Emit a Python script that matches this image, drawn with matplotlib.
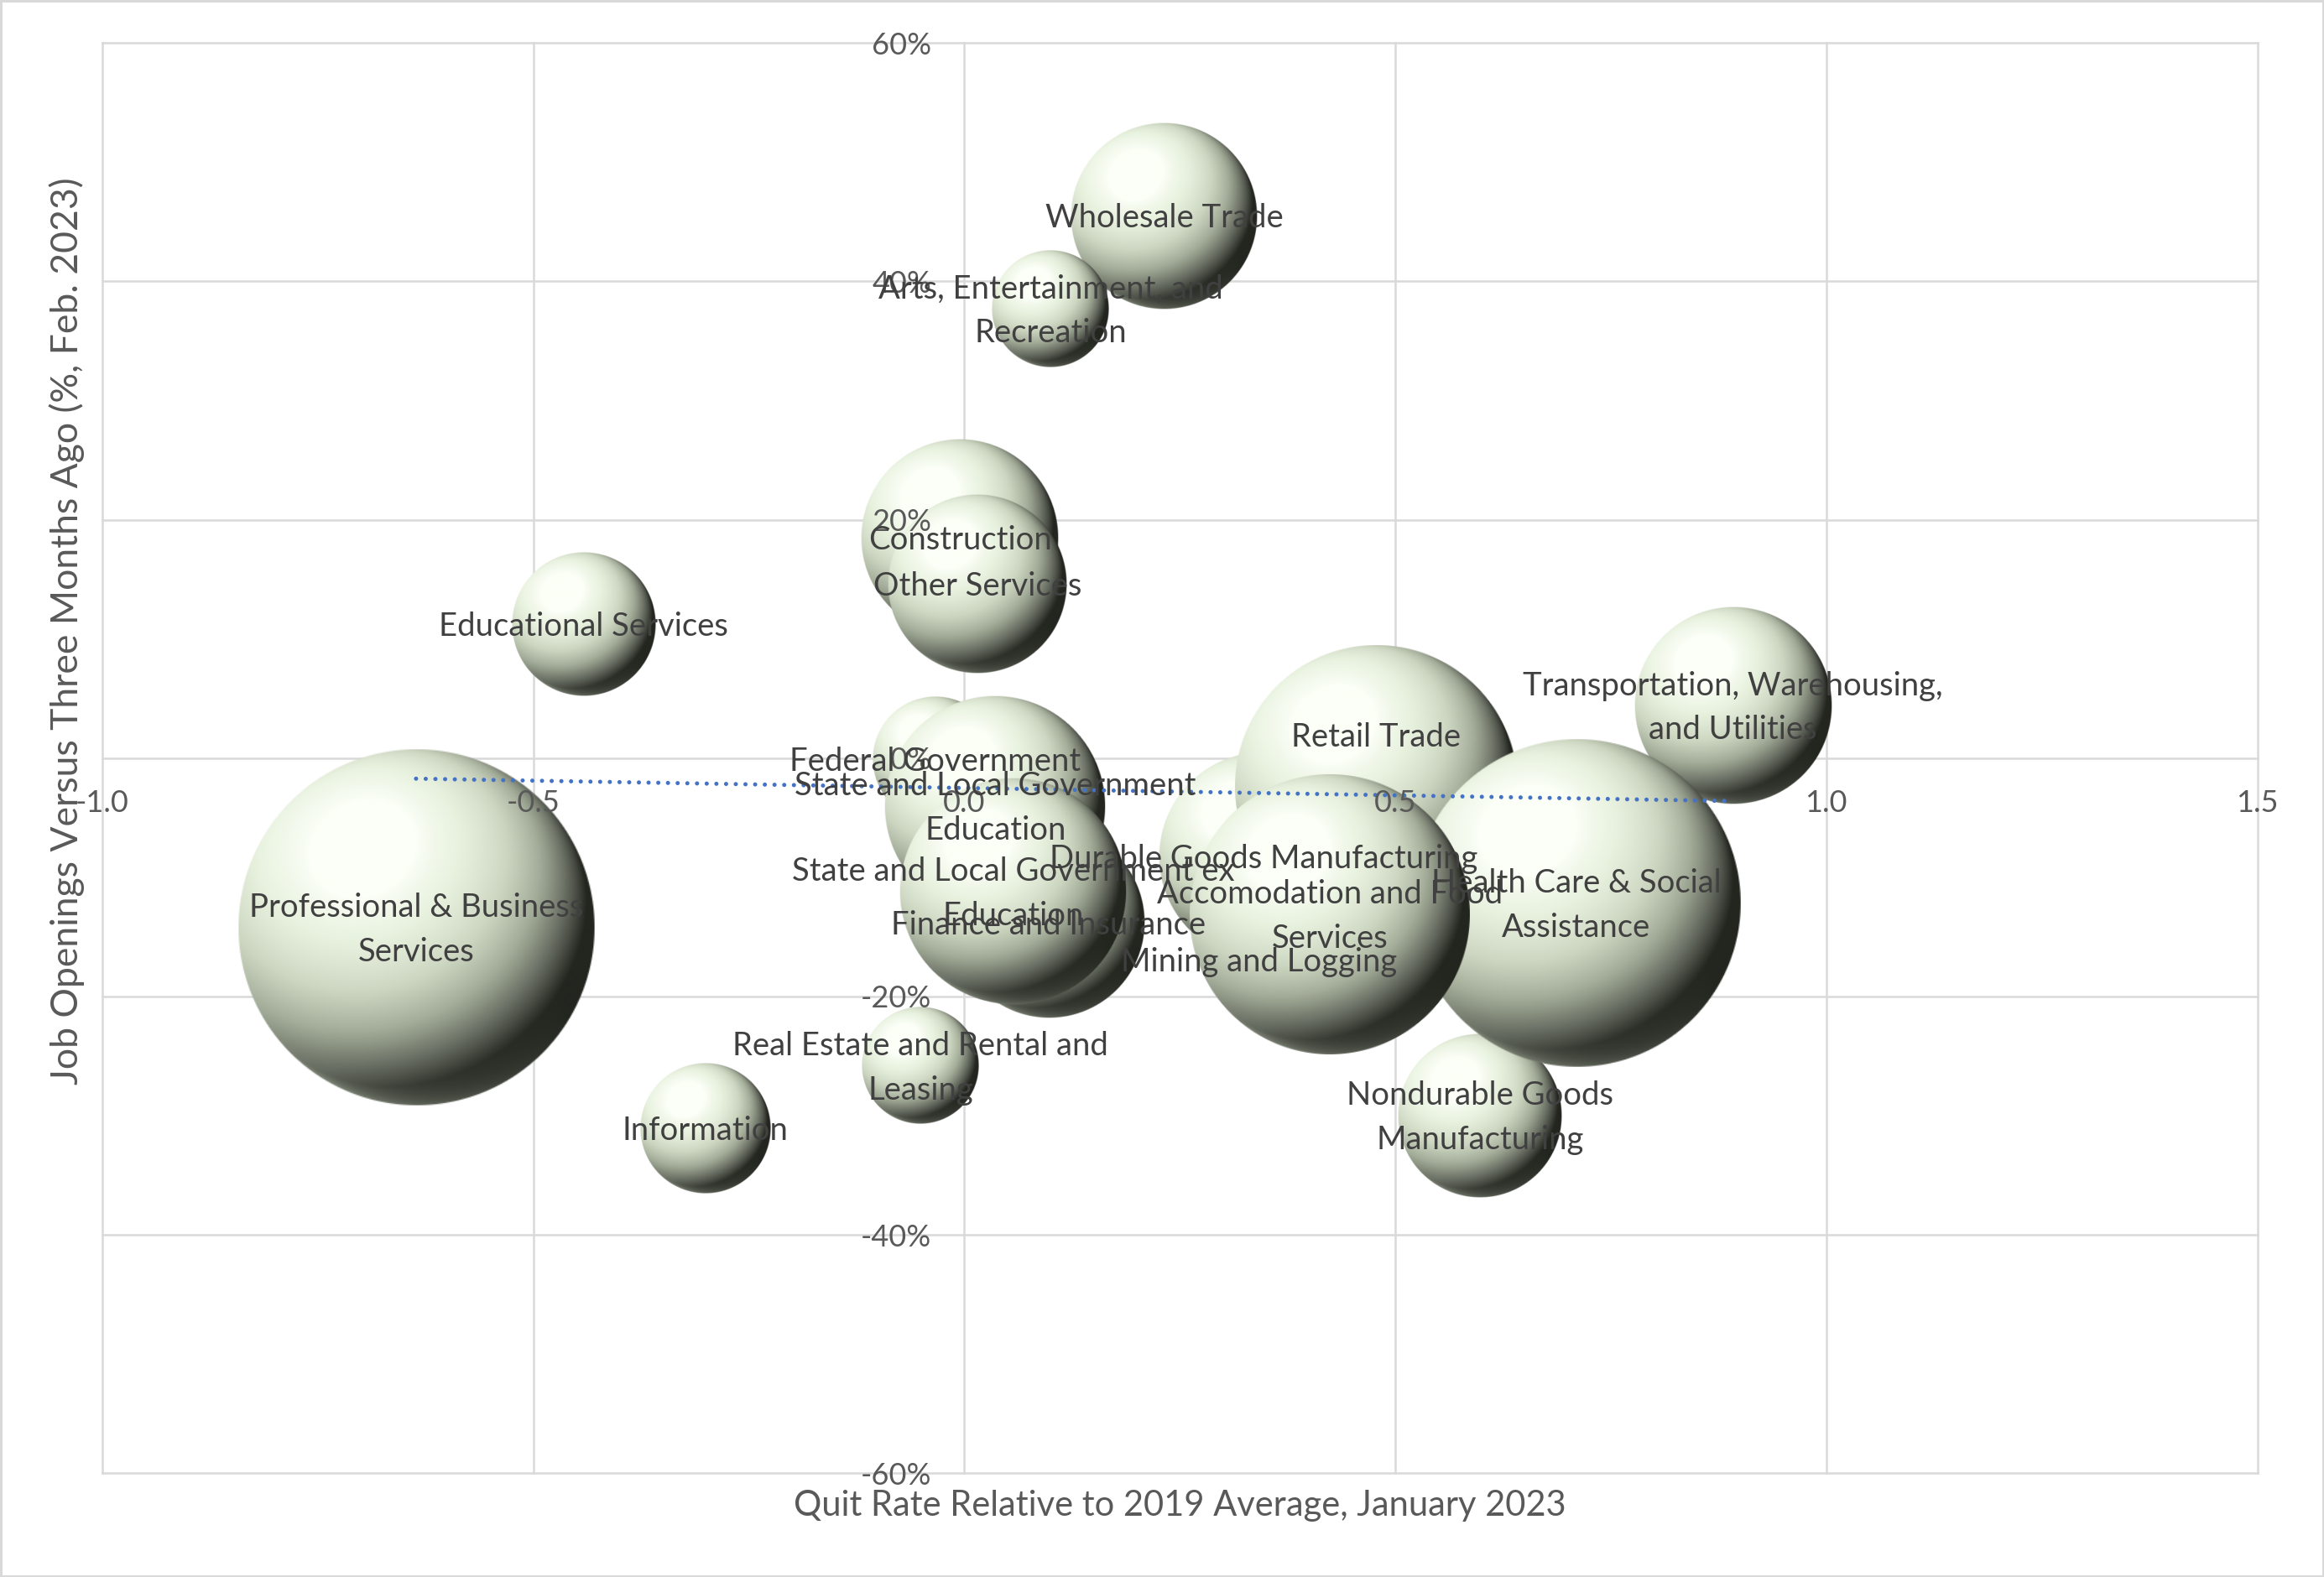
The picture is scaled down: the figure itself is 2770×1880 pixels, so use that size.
import numpy as np
import matplotlib
matplotlib.use("Agg")
import matplotlib.pyplot as plt
from matplotlib.colors import LinearSegmentedColormap
from matplotlib.ticker import MultipleLocator, FuncFormatter

plt.rcParams['font.family'] = ['Lato', 'DejaVu Sans']
plt.rcParams['axes.unicode_minus'] = False

# Data (listed back to front, the order the bubbles are drawn)
industries = [
    "Educational Services",
    "Information",
    "Real Estate and Rental and\nLeasing",
    "Professional & Business\nServices",
    "Mining and Logging",
    "Durable Goods Manufacturing",
    "Retail Trade",
    "Transportation, Warehousing,\nand Utilities",
    "Nondurable Goods\nManufacturing",
    "Health Care & Social\nAssistance",
    "Accomodation and Food\nServices",
    "Federal Government",
    "State and Local Government\nEducation",
    "Finance and Insurance",
    "State and Local Government ex\nEducation",
    "Construction",
    "Other Services",
    "Wholesale Trade",
    "Arts, Entertainment, and\nRecreation",
]
quit_rate = [-0.442, -0.301, -0.051, -0.636, 0.342, 0.347, 0.478, 0.892, 0.598,
             0.71, 0.424, -0.034, 0.036, 0.098, 0.057, -0.005, 0.015, 0.232, 0.10]
job_openings = [11.2, -31.1, -25.8, -14.2, -16.9, -8.3, -2.4, 4.4, -30.0,
                -12.2, -13.1, -0.1, -4.0, -13.8, -11.2, 18.5, 14.6, 45.5, 37.7]
employment = [3600, 2950, 2400, 22300, 625, 7650, 14100, 6800, 4700,
              18900, 13800, 2750, 8550, 6400, 9000, 6800, 5600, 6100, 2400]
# labels that were moved off the bubble centre (points)
label_shift = {"Retail Trade": 44}

x_ticks = np.arange(-1.0, 1.51, 0.5)
y_ticks = np.arange(-60, 61, 20)

grid_col = '#D9D9D9'
text_col = '#595959'
label_col = '#404040'

sphere_cmap = LinearSegmentedColormap.from_list('sphere', [
    (0.0, '#23251f'), (0.2, '#5d6258'), (0.45, '#a3ac98'),
    (0.65, '#cdd6c1'), (0.85, '#e8f2df'), (1.0, '#fbfff7')])


def sphere_image(n=320):
    t = np.linspace(-1, 1, n)
    u, v = np.meshgrid(t, t)
    d = np.sqrt(u**2 + v**2)
    z = np.sqrt(np.clip(1 - d**2, 0, 1))
    L = np.array([-0.3, 0.45, 0.84])
    L = L / np.linalg.norm(L)
    diff = np.clip(u*L[0] + v*L[1] + z*L[2], 0, 1)
    spec = diff**40
    rim = (1 - z)**2 * np.clip(0.5 - 0.7*u - 0.2*v, 0, 1)
    shade = np.clip(diff**1.1 + 0.3*spec + 0.4*rim, 0, 1)
    img = sphere_cmap(shade)
    img[..., 3] = np.clip((1 - d) * n / 2, 0, 1)
    return img


W, H, DPI = 2770, 1880, 100
fig = plt.figure(figsize=(W/DPI, H/DPI), dpi=DPI)
fig.patch.set_edgecolor(grid_col)
fig.patch.set_linewidth(2.5)

ax_l, ax_b, ax_w, ax_h = 0.0440, 0.0658, 0.9273, 0.9070
ax = fig.add_axes([ax_l, ax_b, ax_w, ax_h])
xmin, xmax, ymin, ymax = -1.0, 1.5, -60, 60

# grid
for xv in x_ticks:
    ax.axvline(xv, color=grid_col, lw=1.8, zorder=1, clip_on=False)
for yv in y_ticks:
    ax.axhline(yv, color=grid_col, lw=1.8, zorder=1, clip_on=False)

# bubbles
px_w = ax_w * W
px_h = ax_h * H
r_max = 0.25 * min(px_w, px_h) / 2
s_max = max(employment)
img = sphere_image()
for xi, yi, si in zip(quit_rate, job_openings, employment):
    r = r_max * np.sqrt(si / s_max)
    dx = r / px_w * (xmax - xmin)
    dy = r / px_h * (ymax - ymin)
    ax.imshow(img, extent=(xi - dx, xi + dx, yi - dy, yi + dy), origin='lower',
              aspect='auto', interpolation='bilinear', zorder=3)

# linear trendline
slope, icpt = np.polyfit(quit_rate, job_openings, 1)
tx = np.array([min(quit_rate), max(quit_rate)])
ax.plot(tx, slope*tx + icpt, color='#4472C4', lw=3.6, linestyle=(0, (0.01, 2.3)),
        dash_capstyle='round', zorder=4)

# data labels
for name, xi, yi in zip(industries, quit_rate, job_openings):
    ax.annotate(name, (xi, yi), xytext=(0, label_shift.get(name, 0) - 2),
                textcoords='offset points', ha='center', va='center',
                fontsize=27.5, color=label_col, linespacing=1.58, zorder=6)

ax.set_xlim(xmin, xmax)
ax.set_ylim(ymin, ymax)
for sp in ax.spines.values():
    sp.set_visible(False)
ax.spines['left'].set_position(('data', 0))
ax.spines['bottom'].set_position(('data', 0))
ax.xaxis.set_major_locator(MultipleLocator(0.5))
ax.yaxis.set_major_locator(MultipleLocator(20))
ax.xaxis.set_major_formatter(FuncFormatter(lambda v, p: f"{v:.1f}"))
ax.yaxis.set_major_formatter(FuncFormatter(lambda v, p: f"{v:.0f}%"))
ax.tick_params(axis='x', length=0, pad=27, labelsize=26, labelcolor=text_col)
ax.tick_params(axis='y', length=0, pad=28, labelsize=26, labelcolor=text_col)
ax.xaxis.set_zorder(5)
ax.yaxis.set_zorder(5)

ax.text(0.5, -0.0228, "Quit Rate Relative to 2019 Average, January 2023",
        transform=ax.transAxes, ha='center', va='center', fontsize=30, color=text_col)
ax.text(-0.0165, 0.589, "Job Openings Versus Three Months Ago (%, Feb. 2023)",
        transform=ax.transAxes, ha='center', va='center', rotation=90,
        fontsize=32, color=text_col)

fig.savefig('out.png', dpi=DPI)
